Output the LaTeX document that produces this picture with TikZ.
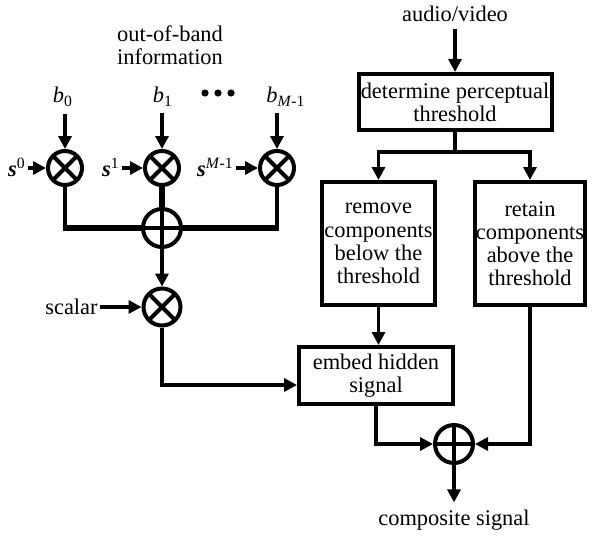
\documentclass[tikz,border=0pt]{standalone}
\usepackage{fontspec}
\setmainfont{Liberation Serif}
\usetikzlibrary{arrows.meta,calc}
\begin{document}
\begin{tikzpicture}[x=0.5pt,y=-0.5pt,
 every node/.style={font=\fontsize{11.2}{11.6}\selectfont},
 conn/.style={line width=1.7pt,-{Triangle[length=6.5pt,width=6.5pt]}},
 plainline/.style={line width=1.7pt},
 bus/.style={line width=2.6pt},
 blk/.style={draw,line width=2pt,align=center,inner xsep=0pt,inner ysep=1pt},
 mult/.style={circle,draw,line width=2pt,minimum size=17pt,inner sep=0pt,
   path picture={\draw[line width=2pt] (path picture bounding box.north west)--(path picture bounding box.south east) (path picture bounding box.north east)--(path picture bounding box.south west);}},
 summ/.style={circle,draw,line width=2pt,minimum size=19pt,inner sep=0pt,
   path picture={\draw[line width=2pt] (path picture bounding box.north)--(path picture bounding box.south) (path picture bounding box.east)--(path picture bounding box.west);}},
]
\useasboundingbox (0,0) rectangle (593,535);

% left part
\node[align=center] (oob) at (170,45) {out-of-band\\information};
\node[anchor=base] (b0) at (63,103) {\textit{b}\textsubscript{0}};
\node[anchor=base] (b1) at (163,103) {\textit{b}\textsubscript{1}};
\node[anchor=base] (bM) at (286,103) {\textit{b}\textsubscript{\textit{M}-1}};
\fill (205,93) circle (1.8pt) (218,93) circle (1.8pt) (231,93) circle (1.8pt);

\node[mult] (m0) at (65,168) {};
\node[mult] (m1) at (162,168) {};
\node[mult] (m2) at (277,168) {};

\node[anchor=base east,inner sep=1pt] (s0) at (28,176) {\textbf{\textit{s}}\textsuperscript{0}};
\node[anchor=base east,inner sep=1pt] (s1) at (122,176) {\textbf{\textit{s}}\textsuperscript{1}};
\node[anchor=base east,inner sep=1pt] (sM) at (236,176) {\textbf{\textit{s}}\textsuperscript{\textit{M}-1}};

\draw[conn] (b0.south -| m0.north) -- (m0.north);
\draw[conn] (b1.south -| m1.north) -- (m1.north);
\draw[conn] (bM.south -| m2.north) -- (m2.north);
\draw[conn] (s0.east |- m0.west) -- (m0.west);
\draw[conn] (s1.east |- m1.west) -- (m1.west);
\draw[conn] (sM.east |- m2.west) -- (m2.west);

\node[summ] (sum1) at (162,228) {};
\draw[plainline] (m0.south) -- (m0.south |- sum1.west);
\draw[plainline] (m2.south) -- (m2.south |- sum1.east);
\draw[bus] ([xshift=-0.85pt]m0.south |- sum1.west) -- (sum1.west);
\draw[bus] ([xshift=0.85pt]m2.south |- sum1.east) -- (sum1.east);
\draw[bus] (m1.south) -- (sum1.north);

\node[mult,minimum size=18.5pt] (m4) at (162,307) {};
\draw[conn] (sum1.south) -- (m4.north);
\node[anchor=base east,inner sep=1pt] (sc) at (100,314) {scalar};
\draw[conn] (sc.east |- m4.west) -- (m4.west);

% right part
\node[anchor=base] (av) at (455,22) {audio/video};
\node[blk,minimum width=96.5pt,minimum height=28pt] (det) at (455,102) {determine perceptual\\threshold};
\draw[conn] (av.south) -- (det.north);

\node[blk,minimum width=56.5pt,minimum height=61.5pt] (rem) at (378.5,243.5) {remove\\components\\below the\\threshold};
\node[blk,minimum width=55pt,minimum height=61.5pt] (ret) at (530,243.5) {retain\\components\\above the\\threshold};
\draw[plainline] (det.south) -- ++(0,20) coordinate (split);
\draw[conn] (split) -| (rem.north);
\draw[conn] (split) -| (ret.north);

\node[blk,minimum width=77pt,minimum height=28.5pt] (emb) at (376,375.5) {embed hidden\\signal};
\draw[conn] (rem.south) -- (rem.south |- emb.north);
\draw[conn] (m4.south) |- ($(emb.west)+(0,9.5)$);

\node[summ] (sumf) at (454,444) {};
\draw[conn] (emb.south) |- (sumf.west);
\draw[conn] (ret.south) |- (sumf.east);
\node[anchor=base] (comp) at (454,525) {composite signal};
\draw[conn] (sumf.south) -- (comp.north);
\end{tikzpicture}
\end{document}
